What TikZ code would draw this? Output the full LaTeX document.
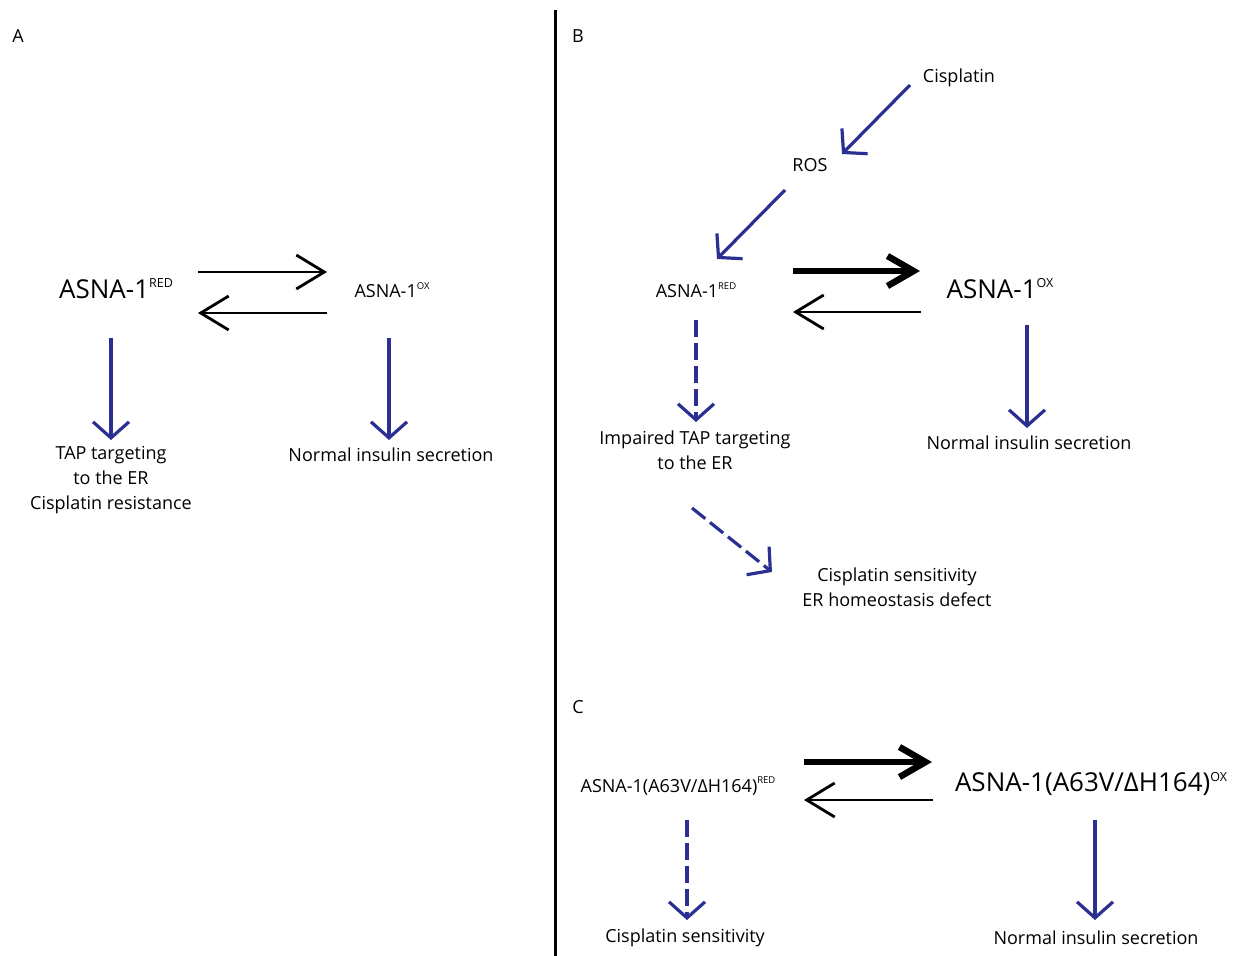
\documentclass[tikz,border=0pt]{standalone}
\usepackage{fontspec}
\setmainfont{Open Sans}
\usetikzlibrary{arrows.meta}
\definecolor{arrblue}{RGB}{44,47,146}
\newcommand{\bigsup}[1]{\raisebox{0.42em}{\fontsize{12.5}{12.5}\selectfont #1}}
\newcommand{\smsup}[1]{\raisebox{0.45em}{\fontsize{9.5}{9.5}\selectfont #1}}
\tikzset{
  txt/.style={inner sep=0pt, align=center, font=\fontsize{18}{25}\selectfont},
  bigtxt/.style={inner sep=0pt, align=center, font=\fontsize{26}{30}\selectfont},
  blk/.style={draw=black, line width=2.8pt, -{Straight Barb[length=28pt,width=34pt]}},
  thk/.style={draw=black, line width=6.5pt, -{Straight Barb[length=26pt,width=30pt]}},
  blu/.style={draw=arrblue, line width=3.2pt, -{Straight Barb[length=16pt,width=36pt]}},
  bludash/.style={blu, dash pattern=on 17pt off 6pt},
}
\begin{document}
\begin{tikzpicture}[x=1pt,y=-1pt]
\useasboundingbox (0,0) rectangle (1235,956);
\fill[white] (0,0) rectangle (1235,956);
% divider
\draw[line width=3pt] (555,10) -- (555,956);
% panel labels
\node[txt] (lA) at (18,36) {A};
\node[txt] (lB) at (578,36) {B};
\node[txt] (lC) at (578,707) {C};
% Panel A
\node[bigtxt] (redA) at (116,289) {ASNA-1\bigsup{RED}};
\node[txt] (oxA) at (392,290) {ASNA-1\smsup{OX}};
\node[txt] (tapA) at (111,480) {TAP targeting\\to the ER\\Cisplatin resistance};
\node[txt] (normA) at (391,455) {Normal insulin secretion};
\draw[blk] ([shift={(82,-17)}]redA.center) -- ([shift={(-65,-18)}]oxA.center);
\draw[blk] ([shift={(-65,23)}]oxA.center) -- ([shift={(82,24)}]redA.center);
\draw[blu] ([shift={(-5,49)}]redA.center) -- ([shift={(0,-40)}]tapA.center);
\draw[blu] ([shift={(-3,48)}]oxA.center) -- ([shift={(-2,-15)}]normA.center);
% Panel B
\node[txt] (cis) at (959,78) {Cisplatin};
\node[txt] (ros) at (810,165) {ROS};
\node[txt] (redB) at (696,290) {ASNA-1\smsup{RED}};
\node[bigtxt] (oxB) at (1000,289) {ASNA-1\bigsup{OX}};
\node[txt] (impB) at (695,450) {Impaired TAP targeting\\to the ER};
\node[txt] (normB) at (1029,443) {Normal insulin secretion};
\node[txt] (sensB) at (897,587) {Cisplatin sensitivity\\ER homeostasis defect};
\draw[blu] ([shift={(-49,7)}]cis.center) -- ([shift={(32,-11)}]ros.center);
\draw[blu] ([shift={(-25,25)}]ros.center) -- ([shift={(21,-31)}]redB.center);
\draw[thk] ([shift={(97,-19)}]redB.center) -- ([shift={(-80,-18)}]oxB.center);
\draw[blk] ([shift={(-79,23)}]oxB.center) -- ([shift={(97,22)}]redB.center);
\draw[bludash] ([shift={(0,30)}]redB.center) -- ([shift={(1,-28)}]impB.center);
\draw[blu] ([shift={(27,36)}]oxB.center) -- ([shift={(-2,-15)}]normB.center);
\draw[bludash] ([shift={(-3,58)}]impB.center) -- ([shift={(-125,-15)}]sensB.center);
% Panel C
\node[txt] (redC) at (678,786) {ASNA-1(A63V/ΔH164)\smsup{RED}};
\node[bigtxt] (oxC) at (1091,784) {ASNA-1(A63V/ΔH164)\bigsup{OX}};
\node[txt] (csC) at (685,938) {Cisplatin sensitivity};
\node[txt] (nisC) at (1096,938) {Normal insulin secretion};
\draw[thk] ([shift={(126,-24)}]redC.center) -- ([shift={(-159,-22)}]oxC.center);
\draw[blk] ([shift={(-158,16)}]oxC.center) -- ([shift={(126,14)}]redC.center);
\draw[bludash] ([shift={(9,34)}]redC.center) -- ([shift={(2,-18)}]csC.center);
\draw[blu] ([shift={(4,36)}]oxC.center) -- ([shift={(-1,-18)}]nisC.center);
\end{tikzpicture}
\end{document}
